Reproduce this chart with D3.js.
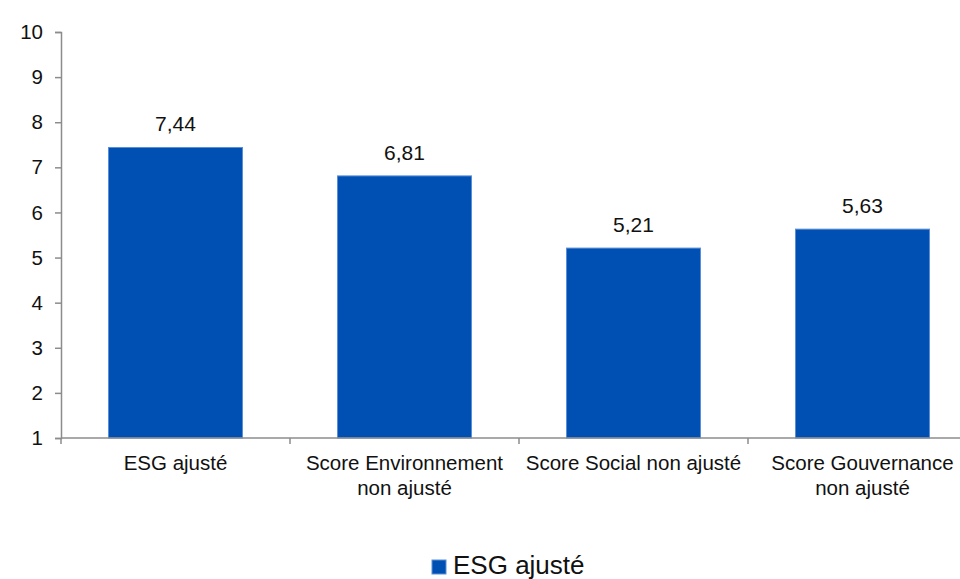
<!DOCTYPE html>
<html>
<head>
<meta charset="utf-8">
<script src="https://cdn.jsdelivr.net/npm/d3@7"></script>
<style>
  body { margin: 0; background: #fff; }
  text { font-family: "Liberation Sans", Arial, sans-serif; fill: #111; }
</style>
</head>
<body>
<svg id="chart"></svg>
<script>
// data
const categories = ["ESG ajusté", "Score Environnement non ajusté", "Score Social non ajusté", "Score Gouvernance non ajusté"];
const values = [7.44, 6.81, 5.21, 5.63];
const yTicks = [1, 2, 3, 4, 5, 6, 7, 8, 9, 10];
const seriesName = "ESG ajusté";

const WIDTH = 960;
const HEIGHT = 579;
const MARGIN = { left: 61, top: 32, right: -17, bottom: 141 };

const svg = d3.select("#chart")
    .attr("width", WIDTH)
    .attr("height", HEIGHT);

const y = d3.scaleLinear()
    .domain([1, 10])
    .range([HEIGHT - MARGIN.bottom, MARGIN.top]);

// one slot per category (for ticks + labels)
const xCat = d3.scaleBand()
    .domain(categories)
    .range([MARGIN.left, WIDTH - MARGIN.right])
    .padding(0);

// bars inside each slot
const x = d3.scaleBand()
    .domain(categories)
    .range([MARGIN.left, WIDTH - MARGIN.right])
    .paddingInner(0.415)
    .paddingOuter(0.2075);

const barColor = "#0050b4";
const axisColor = "#8c8c8c";

// bars
svg.selectAll(".bar")
    .data(values)
    .enter()
    .append("rect")
    .attr("class", "bar")
    .attr("x", (d, i) => x(categories[i]))
    .attr("y", d => y(d))
    .attr("width", x.bandwidth())
    .attr("height", d => y(1) - y(d))
    .attr("fill", barColor)
    .attr("stroke", "#5a8fd6")
    .attr("stroke-width", 1);

// value labels
svg.selectAll(".val")
    .data(values)
    .enter()
    .append("text")
    .attr("class", "val")
    .attr("x", (d, i) => x(categories[i]) + x.bandwidth() / 2)
    .attr("y", d => y(d) - 16)
    .attr("text-anchor", "middle")
    .style("font-size", "21px")
    .text(d => d.toFixed(2).replace(".", ","));

// y axis
const yAxis = svg.append("g")
    .attr("transform", `translate(${MARGIN.left},0)`)
    .call(d3.axisLeft(y).tickValues(yTicks).tickSize(6).tickPadding(12).tickFormat(d3.format("d")));
yAxis.select(".domain").attr("stroke", axisColor).attr("stroke-width", 1.5);
yAxis.selectAll(".tick line").attr("stroke", axisColor).attr("stroke-width", 1.5);
yAxis.selectAll(".tick text")
    .style("font-size", "20.5px")
    .style("font-family", "'Liberation Sans', Arial, sans-serif")
    .attr("fill", "#111");

// x axis: line + ticks between categories
const xAxis = svg.append("g");
xAxis.append("line")
    .attr("x1", MARGIN.left)
    .attr("x2", WIDTH - MARGIN.right)
    .attr("y1", y(1))
    .attr("y2", y(1))
    .attr("stroke", axisColor)
    .attr("stroke-width", 1.5);

const bounds = categories.map(c => xCat(c)).concat([xCat.range()[1]]);
xAxis.selectAll(".xtick")
    .data(bounds)
    .enter()
    .append("line")
    .attr("x1", d => d)
    .attr("x2", d => d)
    .attr("y1", y(1))
    .attr("y2", y(1) + 6)
    .attr("stroke", axisColor)
    .attr("stroke-width", 1.5);

// category labels, wrapped to the slot width
function wrapLabel(textSel, maxWidth) {
    textSel.each(function() {
        const t = d3.select(this);
        const words = t.text().split(" ");
        const cx = t.attr("x");
        t.text(null);
        let line = [];
        let tspan = t.append("tspan").attr("x", cx).attr("dy", 0);
        for (const w of words) {
            line.push(w);
            tspan.text(line.join(" "));
            if (tspan.node().getComputedTextLength() > maxWidth && line.length > 1) {
                line.pop();
                tspan.text(line.join(" "));
                line = [w];
                tspan = t.append("tspan").attr("x", cx).attr("dy", 24.5).text(w);
            }
        }
    });
}

svg.selectAll(".cat")
    .data(categories)
    .enter()
    .append("text")
    .attr("class", "cat")
    .attr("x", d => xCat(d) + xCat.bandwidth() / 2)
    .attr("y", 470)
    .attr("text-anchor", "middle")
    .style("font-size", "20.5px")
    .text(d => d)
    .call(wrapLabel, 218);

// legend
const legend = svg.append("g").attr("transform", "translate(432,560)");
legend.append("rect")
    .attr("width", 14)
    .attr("height", 14)
    .attr("fill", barColor)
    .attr("stroke", "#5a8fd6")
    .attr("stroke-width", 1);
legend.append("text")
    .attr("x", 21)
    .attr("y", 14)
    .style("font-size", "26px")
    .text(seriesName);
</script>
</body>
</html>
